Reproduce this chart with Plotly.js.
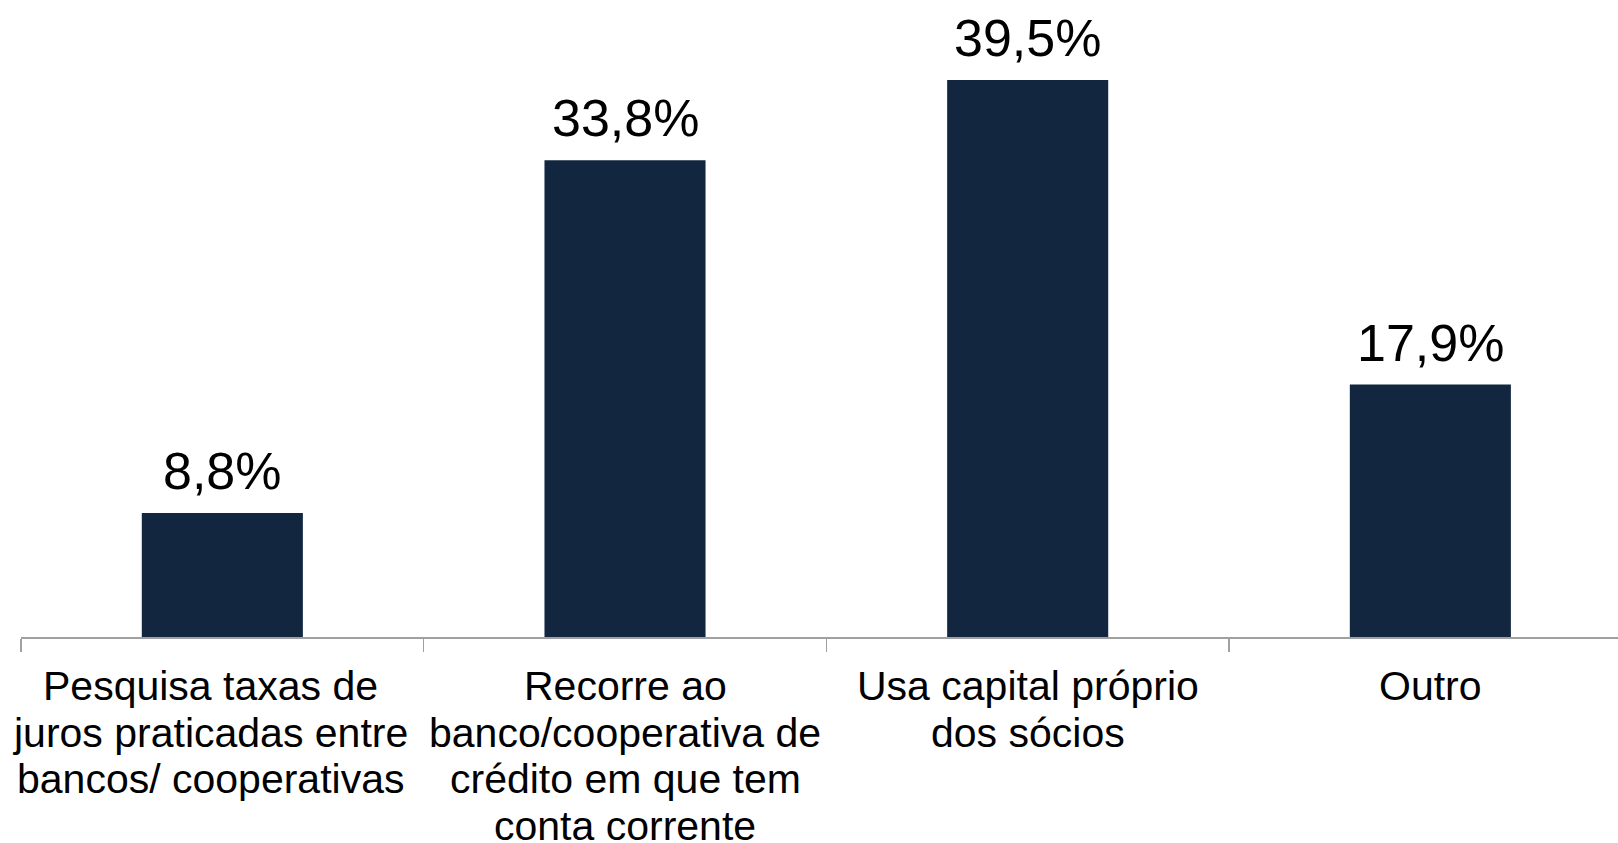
<!DOCTYPE html>
<html>
<head>
<meta charset="utf-8">
<script src="https://cdn.plot.ly/plotly-3.0.1.min.js"></script>
<style>html,body{margin:0;padding:0;background:#fff;}#chart{width:1618px;height:843px;}</style>
</head>
<body>
<div id="chart"></div>
<script>
const categories = [
  "Pesquisa taxas de<br>juros praticadas entre<br>bancos/ cooperativas",
  "Recorre ao<br>banco/cooperativa de<br>crédito em que tem<br>conta corrente",
  "Usa capital próprio<br>dos sócios",
  "Outro"
];
const values = [8.8, 33.8, 39.5, 17.9];
const valueLabels = ["8,8%", "33,8%", "39,5%", "17,9%"];

const FONT = "'Liberation Sans', Arial, sans-serif";
const LINE_H = 46.7;
const labelXShift = [-12, 0, 0, 0];

const annotations = [];
categories.forEach((cat, i) => {
  cat.split("<br>").forEach((line, j) => {
    annotations.push({
      x: i, xref: "x", y: 0, yref: "paper",
      yanchor: "top", xanchor: "center",
      xshift: labelXShift[i],
      yshift: -25 - j * LINE_H,
      text: line, showarrow: false, borderpad: 0,
      font: {family: FONT, size: 41, color: "#000"}
    });
  });
});
values.forEach((v, i) => {
  annotations.push({
    x: i, xref: "x", y: v, yref: "y",
    yanchor: "bottom", xanchor: "center",
    yshift: 11,
    text: valueLabels[i], showarrow: false,
    font: {family: FONT, size: 52, color: "#000"}
  });
});

const data = [{
  type: "bar",
  x: categories.map((c, i) => i),
  y: values,
  marker: {color: "#132640"},
  hoverinfo: "none"
}];

const layout = {
  width: 1618, height: 843,
  margin: {l: 21, r: 0, t: 0, b: 205.5},
  paper_bgcolor: "#fff", plot_bgcolor: "#fff",
  bargap: 0.6,
  showlegend: false,
  xaxis: {
    range: [-0.5, 3.466],
    showline: true, linecolor: "#a0a0a0", linewidth: 1.5,
    ticks: "outside", tickcolor: "#a0a0a0", ticklen: 13, tickwidth: 1.5,
    tickmode: "array", tickvals: [-0.5, 0.5, 1.5, 2.5, 3.5],
    showticklabels: false, showgrid: false, zeroline: false,
    fixedrange: true
  },
  yaxis: {
    range: [0, 45.17], visible: false, fixedrange: true
  },
  annotations: annotations
};

Plotly.newPlot("chart", data, layout, {displayModeBar: false, staticPlot: true});
</script>
</body>
</html>
